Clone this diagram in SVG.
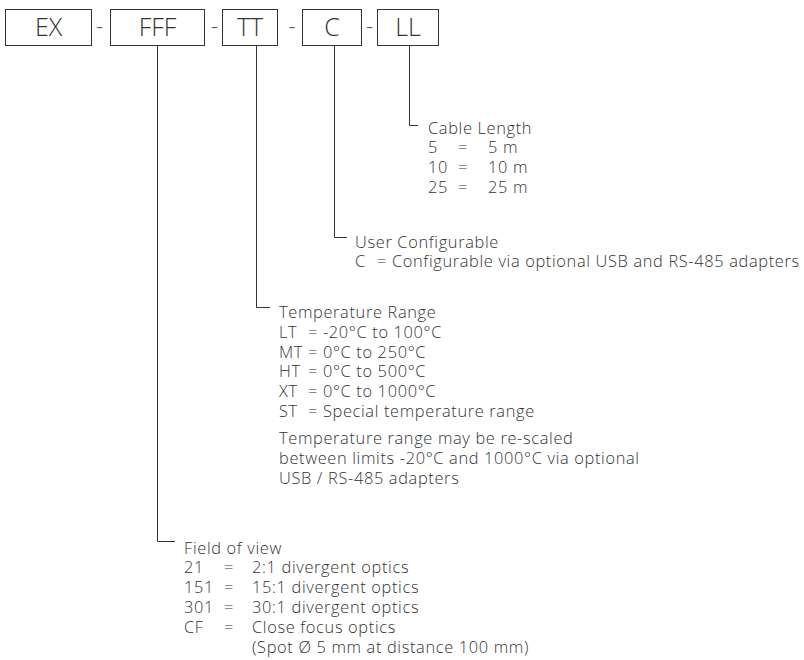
<svg xmlns="http://www.w3.org/2000/svg" width="804" height="660" viewBox="0 0 804 660">
<style>
.box{fill:#fff;stroke:#333;stroke-width:1}
.code{font-family:"Open Sans","Liberation Sans",sans-serif;font-weight:300;font-size:25px;fill:#333;text-anchor:middle}
.dash{font-family:"Open Sans","Liberation Sans",sans-serif;font-weight:300;font-size:22px;fill:#555;text-anchor:middle}
.t{font-family:"Open Sans","Liberation Sans",sans-serif;font-weight:300;font-size:16.4px;letter-spacing:0.65px;fill:#333}
.ln{fill:none;stroke:#333;stroke-width:1}
</style>
<rect width="804" height="660" fill="#fff"/>
<g id="node-EX"><rect class="box" x="5.5" y="9.5" width="86" height="36"/><text class="code" x="48.5" y="36">EX</text></g>
<g id="node-FFF"><rect class="box" x="110.5" y="9.5" width="94" height="36"/><text class="code" x="157.5" y="36">FFF</text></g>
<g id="node-TT"><rect class="box" x="222.5" y="9.5" width="55" height="36"/><text class="code" x="250" y="36">TT</text></g>
<g id="node-C"><rect class="box" x="302.5" y="9.5" width="59" height="36"/><text class="code" x="332" y="36">C</text></g>
<g id="node-LL"><rect class="box" x="377.5" y="9.5" width="61" height="36"/><text class="code" x="408" y="36">LL</text></g>
<g id="separators">
<text class="dash" x="99.5" y="34">-</text>
<text class="dash" x="214.5" y="34">-</text>
<text class="dash" x="292" y="34">-</text>
<text class="dash" x="369.5" y="34">-</text>
</g>
<g id="connectors">
<path class="ln" d="M409.5 45.5 V125.5 H418"/>
<path class="ln" d="M334.5 45.5 V237.5 H347"/>
<path class="ln" d="M256.5 45.5 V307.5 H270"/>
<path class="ln" d="M157.5 45.5 V541.5 H175"/>
</g>
<g id="node-cable-length">
<text class="t"><tspan x="428" y="133.5">Cable Length</tspan><tspan x="428" y="153.3">5</tspan><tspan x="458" y="153.3">=</tspan><tspan x="488" y="153.3">5 m</tspan><tspan x="428" y="173.1">10</tspan><tspan x="458" y="173.1">=</tspan><tspan x="488" y="173.1">10 m</tspan><tspan x="428" y="192.9">25</tspan><tspan x="458" y="192.9">=</tspan><tspan x="488" y="192.9">25 m</tspan></text>
</g>
<g id="node-user-configurable">
<text class="t"><tspan x="355" y="247.5">User Configurable</tspan><tspan x="355" y="267.3">C</tspan><tspan x="377" y="267.3">= Configurable via optional USB and RS-485 adapters</tspan></text>
</g>
<g id="node-temperature-range">
<text class="t"><tspan x="279" y="318">Temperature Range</tspan><tspan x="279" y="337.8">LT</tspan><tspan x="308" y="337.8">= -20°C to 100°C</tspan><tspan x="279" y="357.6">MT</tspan><tspan x="308" y="357.6">= 0°C to 250°C</tspan><tspan x="279" y="377.4">HT</tspan><tspan x="308" y="377.4">= 0°C to 500°C</tspan><tspan x="279" y="397.2">XT</tspan><tspan x="308" y="397.2">= 0°C to 1000°C</tspan><tspan x="279" y="417">ST</tspan><tspan x="308" y="417">= Special temperature range</tspan><tspan x="279" y="444">Temperature range may be re-scaled</tspan><tspan x="279" y="463.8">between limits -20°C and 1000°C via optional</tspan><tspan x="279" y="483.6">USB / RS-485 adapters</tspan></text>
</g>
<g id="node-field-of-view">
<text class="t"><tspan x="184" y="553.5">Field of view</tspan><tspan x="184" y="573.3">21</tspan><tspan x="224" y="573.3">=</tspan><tspan x="252" y="573.3">2:1 divergent optics</tspan><tspan x="184" y="593.1">151</tspan><tspan x="224" y="593.1">=</tspan><tspan x="252" y="593.1">15:1 divergent optics</tspan><tspan x="184" y="612.9">301</tspan><tspan x="224" y="612.9">=</tspan><tspan x="252" y="612.9">30:1 divergent optics</tspan><tspan x="184" y="632.7">CF</tspan><tspan x="224" y="632.7">=</tspan><tspan x="252" y="632.7">Close focus optics</tspan><tspan x="252" y="652.5">(Spot Ø 5 mm at distance 100 mm)</tspan></text>
</g>
</svg>
